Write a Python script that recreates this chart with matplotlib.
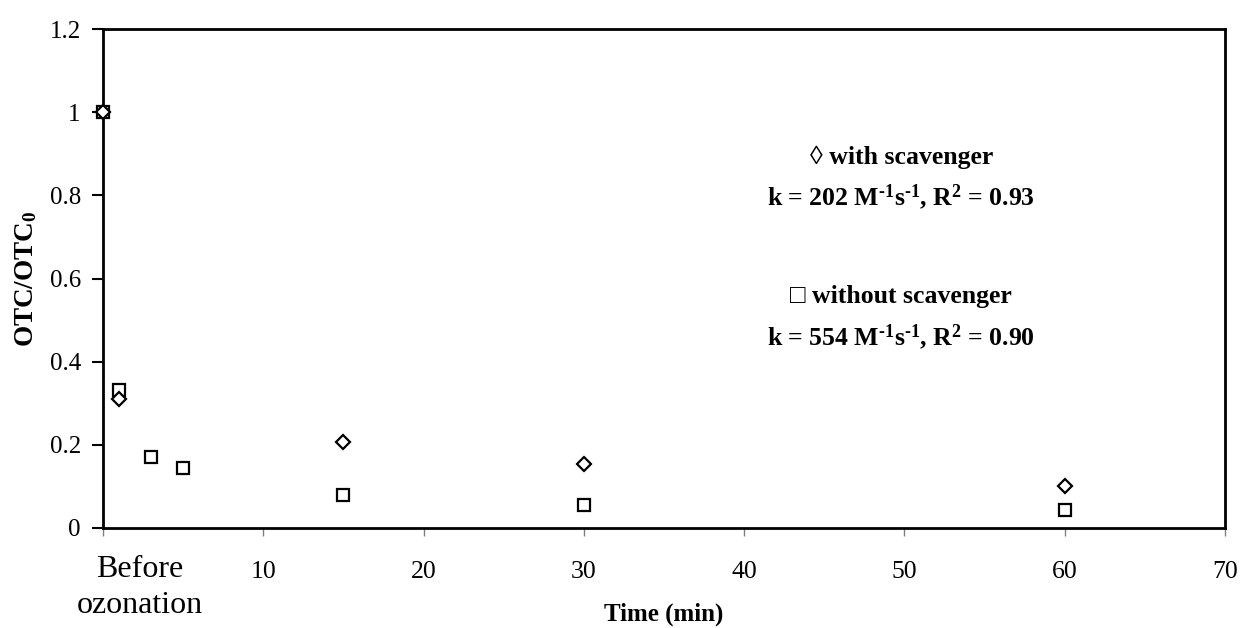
import numpy as np
import matplotlib
matplotlib.use("Agg")
import matplotlib.pyplot as plt
from matplotlib.transforms import ScaledTranslation

# OTC decay during ozonation, with and without radical scavenger
time_with = [0, 1, 15, 30, 60]
otc_with = [1.0, 0.31, 0.207, 0.155, 0.102]

time_without = [0, 1, 3, 5, 15, 30, 60]
otc_without = [1.0, 0.333, 0.17, 0.145, 0.079, 0.056, 0.044]

xticks = [0, 10, 20, 30, 40, 50, 60, 70]
xticklabels = ["Before\nozonation", "10", "20", "30", "40", "50", "60", "70"]
yticks = [0, 0.2, 0.4, 0.6, 0.8, 1.0, 1.2]
yticklabels = ["0", "0.2", "0.4", "0.6", "0.8", "1", "1.2"]

plt.rcParams['font.family'] = ['Liberation Serif', 'DejaVu Serif']
plt.rcParams['mathtext.fontset'] = 'custom'
plt.rcParams['mathtext.rm'] = 'Liberation Serif:bold'
plt.rcParams['mathtext.it'] = 'Liberation Serif:bold'
plt.rcParams['mathtext.bf'] = 'Liberation Serif:bold'
plt.rcParams['mathtext.default'] = 'rm'

fig = plt.figure(figsize=(12.4, 6.28), dpi=100)
ax = fig.add_axes([103 / 1240, 1 - 528 / 628, (1225 - 103) / 1240, (528 - 29) / 628])

ax.plot(time_with, otc_with, linestyle='none', marker='D', markersize=7,
        markerfacecolor='white', markeredgecolor='black', markeredgewidth=1.6,
        zorder=3, clip_on=False)
ax.plot(time_without, otc_without, linestyle='none', marker='s', markersize=8.8,
        markerfacecolor='none', markeredgecolor='black', markeredgewidth=1.6,
        zorder=2, clip_on=False)

ax.set_xlim(0, 70)
ax.set_ylim(0, 1.2)
ax.set_xticks(xticks)
ax.set_xticklabels(xticklabels, fontsize=18.5)
ax.set_yticks(yticks)
ax.set_yticklabels(yticklabels, fontsize=18)
ax.tick_params(axis='x', direction='out', length=6, width=1, color='#808080', pad=18)
ax.tick_params(axis='y', direction='out', length=8, width=1.5, color='black', pad=8)
# "Before ozonation" is set larger than the numbers and sits right of its tick
first = ax.get_xticklabels()[0]
first.set_fontsize(23)
first.set_linespacing(1.3)
first.set_y(0.012)
first.set_transform(first.get_transform() + ScaledTranslation(0.37, 0, fig.dpi_scale_trans))

for s in ax.spines.values():
    s.set_linewidth(2)
    s.set_color('black')

ax.set_xlabel("Time (min)", fontsize=18, fontweight='bold')
ax.xaxis.set_label_coords(0.5, -(603 - 528) / 499)
ax.set_ylabel("OTC/OTC$_0$", fontsize=19.5, fontweight='bold')
ax.yaxis.set_label_coords(-64 / 1122, 0.5)

txt_kw = dict(transform=ax.transData, ha='center', va='center', fontsize=18.5, fontweight='bold')
ax.text(49.8, 0.892, "\u25ca with scavenger", **txt_kw)
ax.text(49.8, 0.795, r"k = 202 M$^{\text{-1}}$s$^{\text{-1}}$, R$^{2}$ = 0.93", **txt_kw)
ax.text(49.8, 0.557, "\u25a1 without scavenger", **txt_kw)
ax.text(49.8, 0.459, r"k = 554 M$^{\text{-1}}$s$^{\text{-1}}$, R$^{2}$ = 0.90", **txt_kw)

fig.savefig("out.png", dpi=100, facecolor='white')
